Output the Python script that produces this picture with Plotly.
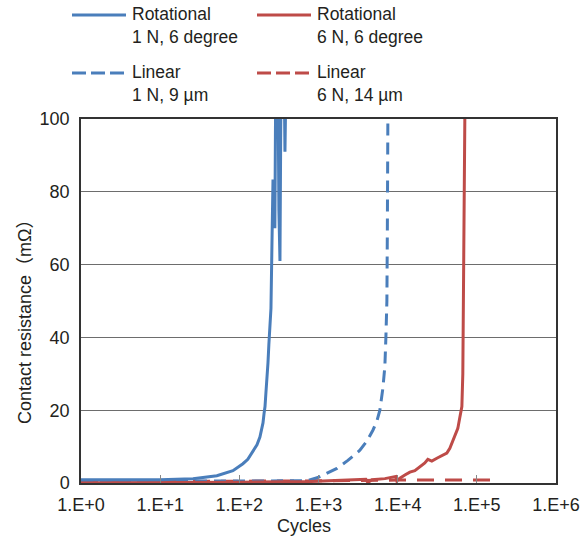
import plotly.graph_objects as go

# Rotational fretting, 1 N, 6 degree
rot1_cycles = [1, 3.1, 9.9, 26, 52, 83, 111, 128, 149, 167, 182, 193, 199, 205, 211,
               217, 223, 230, 236, 243, 251, 258, 266, 273, 281, 290, 298, 307, 316,
               326, 335, 345, 355, 366, 377, 388, 399]
rot1_mohm = [0.9, 0.9, 0.9, 1.2, 2.0, 3.4, 5.3, 6.5, 9.0, 10.5, 12.6, 15.0, 16.5, 19.0, 21.0,
             25.0, 28.0, 33.0, 38.0, 43.0, 48.0, 65.0, 83.0, 83.0, 70.0, 120.0, 110.0, 115.0, 75.0,
             61.0, 105.0, 120.0, 110.0, 118.0, 91.0, 110.0, 100.0]

# Linear fretting, 1 N, 9 um
lin1_cycles = [1, 32, 316, 714, 982, 1277, 1708, 2350, 3335, 4085, 4865, 5460, 5960,
               6500, 6890, 7100, 7310, 7410, 7520]
lin1_mohm = [0.5, 0.5, 0.5, 0.6, 1.5, 2.6, 4.0, 6.2, 9.0, 11.5, 14.5, 17.0, 20.0,
             26.0, 32.0, 40.0, 50.0, 70.0, 100.0]

# Rotational fretting, 6 N, 6 degree
rot6_cycles = [1, 9.9, 102, 778, 1862, 3335, 3965, 4205, 4720, 6890, 8690, 9490, 9770,
               10660, 12330, 14260, 16490, 19070, 22050, 24050, 27020, 31250, 36140,
               41790, 45600, 49770, 54310, 57540, 60950, 64710, 66530, 67560, 68550, 70530]
rot6_mohm = [0.1, 0.1, 0.2, 0.4, 0.7, 0.9, 1.0, 0.1, 0.9, 1.2, 1.5, 1.8, 0.6,
             1.3, 2.2, 3.0, 3.4, 4.5, 5.5, 6.5, 6.0, 6.8, 7.5,
             8.2, 9.5, 11.7, 13.5, 15.0, 18.0, 21.0, 30.0, 50.0, 70.0, 100.0]

# Linear fretting, 6 N, 14 um
lin6_cycles = [1, 100, 1000, 10000, 50000, 195000]
lin6_mohm = [0.3, 0.4, 0.6, 0.8, 0.8, 0.8]

x_tickvals = [1, 10, 100, 1000, 10000, 100000, 1000000]
x_ticktext = ["1.E+0", "1.E+1", "1.E+2", "1.E+3", "1.E+4", "1.E+5", "1.E+6"]
y_tickvals = [0, 20, 40, 60, 80, 100]

BLUE = "#4a7ebb"
RED = "#be4b48"
TEXT = "#231f20"
FONT = "Liberation Sans, Arial, Noto Sans CJK JP, sans-serif"

# name, x, y, colour, dash in plot, dash in legend
series = [
    ("Rotational<br>1 N, 6 degree", rot1_cycles, rot1_mohm, BLUE, "solid", "solid"),
    ("Rotational<br>6 N, 6 degree", rot6_cycles, rot6_mohm, RED, "solid", "solid"),
    ("Linear<br>1 N, 9 µm", lin1_cycles, lin1_mohm, BLUE, "12px,7px", "14px,5px"),
    ("Linear<br>6 N, 14 µm", lin6_cycles, lin6_mohm, RED, "17px,11px", "14px,5px"),
]

# plot area in pixels
L, R, T, B = 81, 556, 119, 483
W, H = 582, 539
PW, PH = R - L, B - T


def px(x):
    return (x - L) / PW


def py(y):
    return (B - y) / PH


fig = go.Figure()
# draw order: dashed below solid
for idx in (3, 2, 1, 0):
    name, xs, ys, col, dash, _ = series[idx]
    fig.add_trace(go.Scatter(x=xs, y=ys, mode="lines", name=name, showlegend=False,
                             line=dict(color=col, width=3, dash=dash)))

# legend drawn in two columns above the plot
legend_pos = [(72, 15), (257, 15), (72, 73), (257, 73)]
for (name, xs, ys, col, _, ldash), (lx, ly) in zip(series, legend_pos):
    fig.add_shape(type="line", xref="paper", yref="paper",
                  x0=px(lx), x1=px(lx + 54), y0=py(ly), y1=py(ly),
                  line=dict(color=col, width=3, dash=ldash))
    fig.add_annotation(xref="paper", yref="paper", x=px(lx + 58),
                       y=py(ly - 13), xanchor="left", yanchor="top",
                       text=name, showarrow=False, align="left",
                       font=dict(size=17.5, color=TEXT, family=FONT))

fig.add_annotation(xref="paper", yref="paper", x=px(304), y=py(526),
                   text="Cycles", showarrow=False, yanchor="middle",
                   font=dict(size=18, color=TEXT, family=FONT))
fig.add_annotation(xref="paper", yref="paper", x=px(25), y=py(317),
                   text="Contact resistance（mΩ）", showarrow=False, textangle=-90,
                   xanchor="center", yanchor="middle",
                   font=dict(size=18, color=TEXT, family=FONT))

fig.update_xaxes(type="log", range=[0, 6], tickvals=x_tickvals, ticktext=x_ticktext,
                 showgrid=False, showline=True, linecolor="#333333", linewidth=1.5,
                 mirror=True, ticks="inside", ticklen=8, tickcolor="#888888",
                 ticklabelstandoff=5, automargin=False,
                 tickfont=dict(size=18, color=TEXT, family=FONT), zeroline=False)
fig.update_yaxes(range=[0, 100], tickvals=y_tickvals, showgrid=True, gridcolor="#6d6d6d",
                 gridwidth=1, showline=True, linecolor="#333333", linewidth=1.5,
                 mirror=True, ticks="", zeroline=False, ticklabelstandoff=6,
                 automargin=False,
                 tickfont=dict(size=18, color=TEXT, family=FONT))

fig.update_layout(width=W, height=H, margin=dict(l=L, r=W - R, t=T, b=H - B),
                  paper_bgcolor="white", plot_bgcolor="white", showlegend=False,
                  font=dict(family=FONT, color=TEXT))

fig.write_html("out.html")
